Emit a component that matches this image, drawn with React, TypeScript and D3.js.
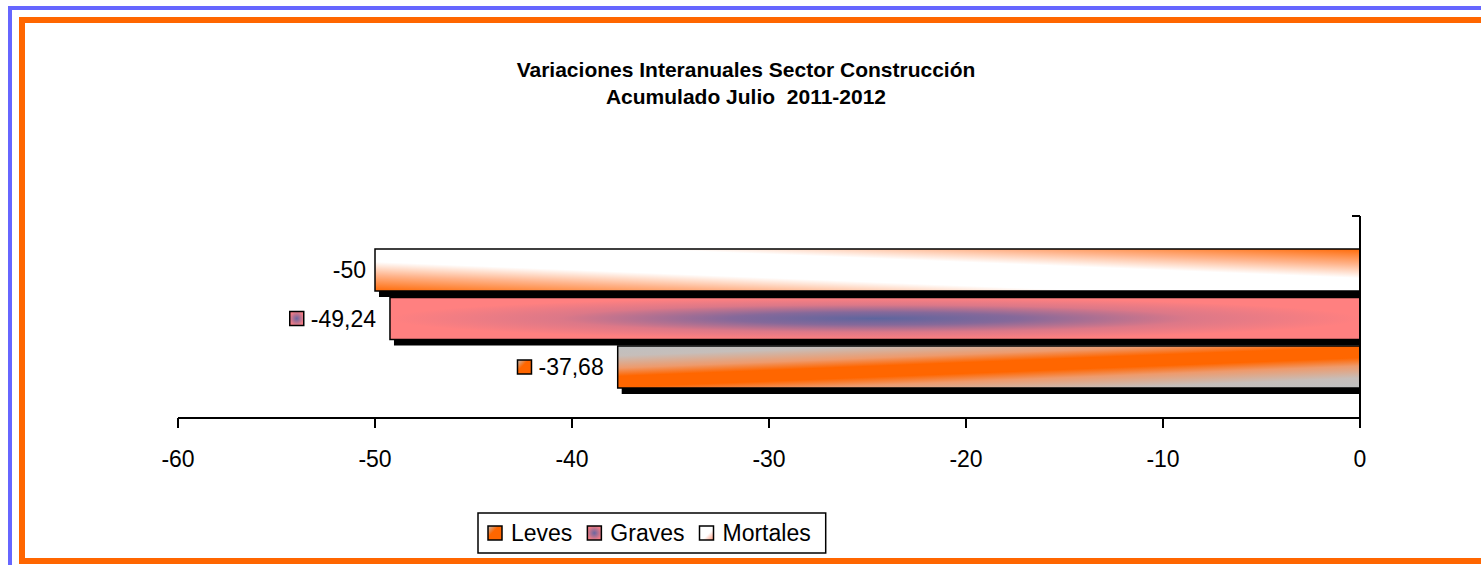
import React from "react";
import * as d3 from "d3";

const titleLines = ["Variaciones Interanuales Sector Construcción", "Acumulado Julio  2011-2012"];
const seriesNames = ["Leves", "Graves", "Mortales"];
const seriesValues = [-37.68, -49.24, -50];
const valueLabels = ["-37,68", "-49,24", "-50"];
const showLabelKey = [true, true, false];
const xTicks = [-60, -50, -40, -30, -20, -10, 0];
const xDomain = [-60, 0];

const W = 1481;
const H = 565;
const FONT = "'Liberation Sans', Arial, Helvetica, sans-serif";

function measure(text: string, size: number, weight = "normal") {
  if (typeof document === "undefined") return text.length * size * 0.55;
  const c = document.createElement("canvas");
  const ctx = c.getContext("2d");
  if (!ctx) return text.length * size * 0.55;
  ctx.font = `${weight} ${size}px 'Liberation Sans', Arial, sans-serif`;
  return ctx.measureText(text).width;
}

function lineGrad(ax: number, ay: number, bx: number, by: number, L: number) {
  const mx = (ax + bx) / 2;
  const my = (ay + by) / 2;
  const dx = bx - ax;
  const dy = by - ay;
  const len = Math.hypot(dx, dy);
  const nx = -dy / len;
  const ny = dx / len;
  return { x1: mx - nx * L, y1: my - ny * L, x2: mx + nx * L, y2: my + ny * L };
}

export default function App() {
  const x = d3.scaleLinear().domain(xDomain).range([178, 1360]);
  const plotTop = 216;
  const plotBottom = 418;
  const y = d3
    .scaleBand<string>()
    .domain(["Mortales", "Graves", "Leves"])
    .range([249, 388])
    .paddingInner(0.134);
  const bw = y.bandwidth();
  const labelSize = 23;

  const bars = seriesNames.map((name, i) => {
    const v = seriesValues[i];
    const x0 = x(v);
    const x1 = x(0);
    const y0 = y(name) as number;
    return { name, v, x0, w: x1 - x0, y0, h: bw, label: valueLabels[i], key: showLabelKey[i], i };
  });

  const gradFor = (b: any) => {
    if (b.name === "Mortales") {
      const g = lineGrad(b.x0, b.y0 + 1, b.x0 + b.w, b.y0 + b.h - 1, 42);
      return (
        <linearGradient id="gMortales" gradientUnits="userSpaceOnUse" {...g} key="gm">
          <stop offset="0" stopColor="#FF6600" />
          <stop offset="0.2" stopColor="#FFB48C" />
          <stop offset="0.36" stopColor="#FFFFFF" />
          <stop offset="0.64" stopColor="#FFFFFF" />
          <stop offset="0.8" stopColor="#FFB48C" />
          <stop offset="1" stopColor="#FF6600" />
        </linearGradient>
      );
    }
    if (b.name === "Leves") {
      const g = lineGrad(b.x0, b.y0 + b.h * 0.85, b.x0 + b.w, b.y0 + b.h * 0.15, 34);
      return (
        <linearGradient id="gLeves" gradientUnits="userSpaceOnUse" {...g} key="gl">
          <stop offset="0" stopColor="#C0C0C0" />
          <stop offset="0.12" stopColor="#C6BEBA" />
          <stop offset="0.3" stopColor="#EE9A6C" />
          <stop offset="0.42" stopColor="#FF6600" />
          <stop offset="0.58" stopColor="#FF6600" />
          <stop offset="0.7" stopColor="#EE9A6C" />
          <stop offset="0.88" stopColor="#C6BEBA" />
          <stop offset="1" stopColor="#C0C0C0" />
        </linearGradient>
      );
    }
    return (
      <radialGradient id="gGraves" cx="0.5" cy="0.5" r="0.5" key="gg">
        <stop offset="0" stopColor="#5E659E" />
        <stop offset="0.3" stopColor="#86699A" />
        <stop offset="0.65" stopColor="#DC7888" />
        <stop offset="1" stopColor="#FF8080" />
      </radialGradient>
    );
  };

  const fillId: Record<string, string> = {
    Leves: "url(#gLeves)",
    Graves: "url(#gGraves)",
    Mortales: "url(#gMortales)",
  };
  const keyFill: Record<string, string> = {
    Leves: "url(#kLeves)",
    Graves: "url(#kGraves)",
    Mortales: "url(#kMortales)",
  };

  // legend layout
  const legendX = 478;
  const legendY = 513;
  const legendH = 40;
  let cursor = legendX + 10;
  const legendItems = seriesNames.map((name) => {
    const kx = cursor;
    const tx = kx + 15 + 8;
    const tw = measure(name, labelSize);
    cursor = tx + tw + 15;
    return { name, kx, tx };
  });
  const legendW = cursor - legendX;

  return (
    <svg
      width={W}
      height={H}
      style={{ position: "absolute", left: 0, top: 0, background: "#fff" }}
      fontFamily={FONT}
    >
      <defs>
        {bars.map((b) => gradFor(b))}
        <linearGradient id="kLeves" x1="0" y1="0" x2="1" y2="1">
          <stop offset="0" stopColor="#C0C0C0" />
          <stop offset="0.4" stopColor="#FF6600" />
          <stop offset="1" stopColor="#FF6600" />
        </linearGradient>
        <radialGradient id="kGraves" cx="0.5" cy="0.5" r="0.5">
          <stop offset="0" stopColor="#6A66A0" />
          <stop offset="1" stopColor="#F07C86" />
        </radialGradient>
        <linearGradient id="kMortales" x1="0" y1="0" x2="1" y2="1">
          <stop offset="0" stopColor="#FFFFFF" />
          <stop offset="0.6" stopColor="#FFFFFF" />
          <stop offset="1" stopColor="#FF9070" />
        </linearGradient>
        <clipPath id="plotClip">
          <rect x={0} y={0} width={x(0)} height={H} />
        </clipPath>
      </defs>

      {/* frames */}
      <rect x={10} y={8} width={W + 20} height={H + 20} fill="none" stroke="#6666FF" strokeWidth={4} />
      <rect x={22} y={20} width={W + 20} height={541} fill="none" stroke="#FF6600" strokeWidth={6} />

      {/* title */}
      <text x={746} y={77} textAnchor="middle" fontWeight="bold" fontSize={21} fill="#000" style={{ whiteSpace: "pre" }}>
        {titleLines[0]}
      </text>
      <text x={746} y={104} textAnchor="middle" fontWeight="bold" fontSize={21} fill="#000" style={{ whiteSpace: "pre" }}>
        {titleLines[1]}
      </text>

      {/* shadows */}
      <g clipPath="url(#plotClip)">
        {bars.map((b) => (
          <rect key={"s" + b.name} x={b.x0 + 4} y={b.y0 + 6} width={b.w} height={b.h} fill="#000" />
        ))}
      </g>
      {/* bars */}
      {bars.map((b) => (
        <rect
          key={b.name}
          x={b.x0}
          y={b.y0}
          width={b.w}
          height={b.h}
          fill={fillId[b.name]}
          stroke="#000"
          strokeWidth={1.5}
        />
      ))}

      {/* value labels */}
      {bars.map((b) => {
        const tx = b.x0 - (b.key ? 14 : 9);
        const tw = measure(b.label, labelSize);
        const cy = b.y0 + b.h / 2;
        return (
          <g key={"l" + b.name}>
            <text x={tx} y={cy + 8} textAnchor="end" fontSize={labelSize} fill="#000">
              {b.label}
            </text>
            {b.key && (
              <rect
                x={tx - tw - 7 - 14}
                y={cy - 7}
                width={14}
                height={14}
                fill={keyFill[b.name]}
                stroke="#000"
                strokeWidth={1.5}
              />
            )}
          </g>
        );
      })}

      {/* value axis */}
      <line x1={x(-60)} x2={x(0)} y1={plotBottom} y2={plotBottom} stroke="#000" strokeWidth={2} />
      {xTicks.map((t) => (
        <g key={t}>
          <line x1={x(t)} x2={x(t)} y1={plotBottom} y2={plotBottom + 10} stroke="#000" strokeWidth={2} />
          <text x={x(t)} y={plotBottom + 49} textAnchor="middle" fontSize={labelSize} fill="#000">
            {t}
          </text>
        </g>
      ))}
      {/* category axis */}
      <line x1={x(0)} x2={x(0)} y1={plotTop} y2={plotBottom} stroke="#000" strokeWidth={2} />
      <line x1={x(0) - 8} x2={x(0)} y1={plotTop} y2={plotTop} stroke="#000" strokeWidth={2} />

      {/* legend */}
      <rect x={legendX} y={legendY} width={legendW} height={legendH} fill="#fff" stroke="#000" strokeWidth={1.5} />
      {legendItems.map((it) => (
        <g key={"lg" + it.name}>
          <rect
            x={it.kx}
            y={legendY + legendH / 2 - 7}
            width={14}
            height={14}
            fill={keyFill[it.name]}
            stroke="#000"
            strokeWidth={1.5}
          />
          <text x={it.tx} y={legendY + legendH / 2 + 8} fontSize={labelSize} fill="#000">
            {it.name}
          </text>
        </g>
      ))}
    </svg>
  );
}
